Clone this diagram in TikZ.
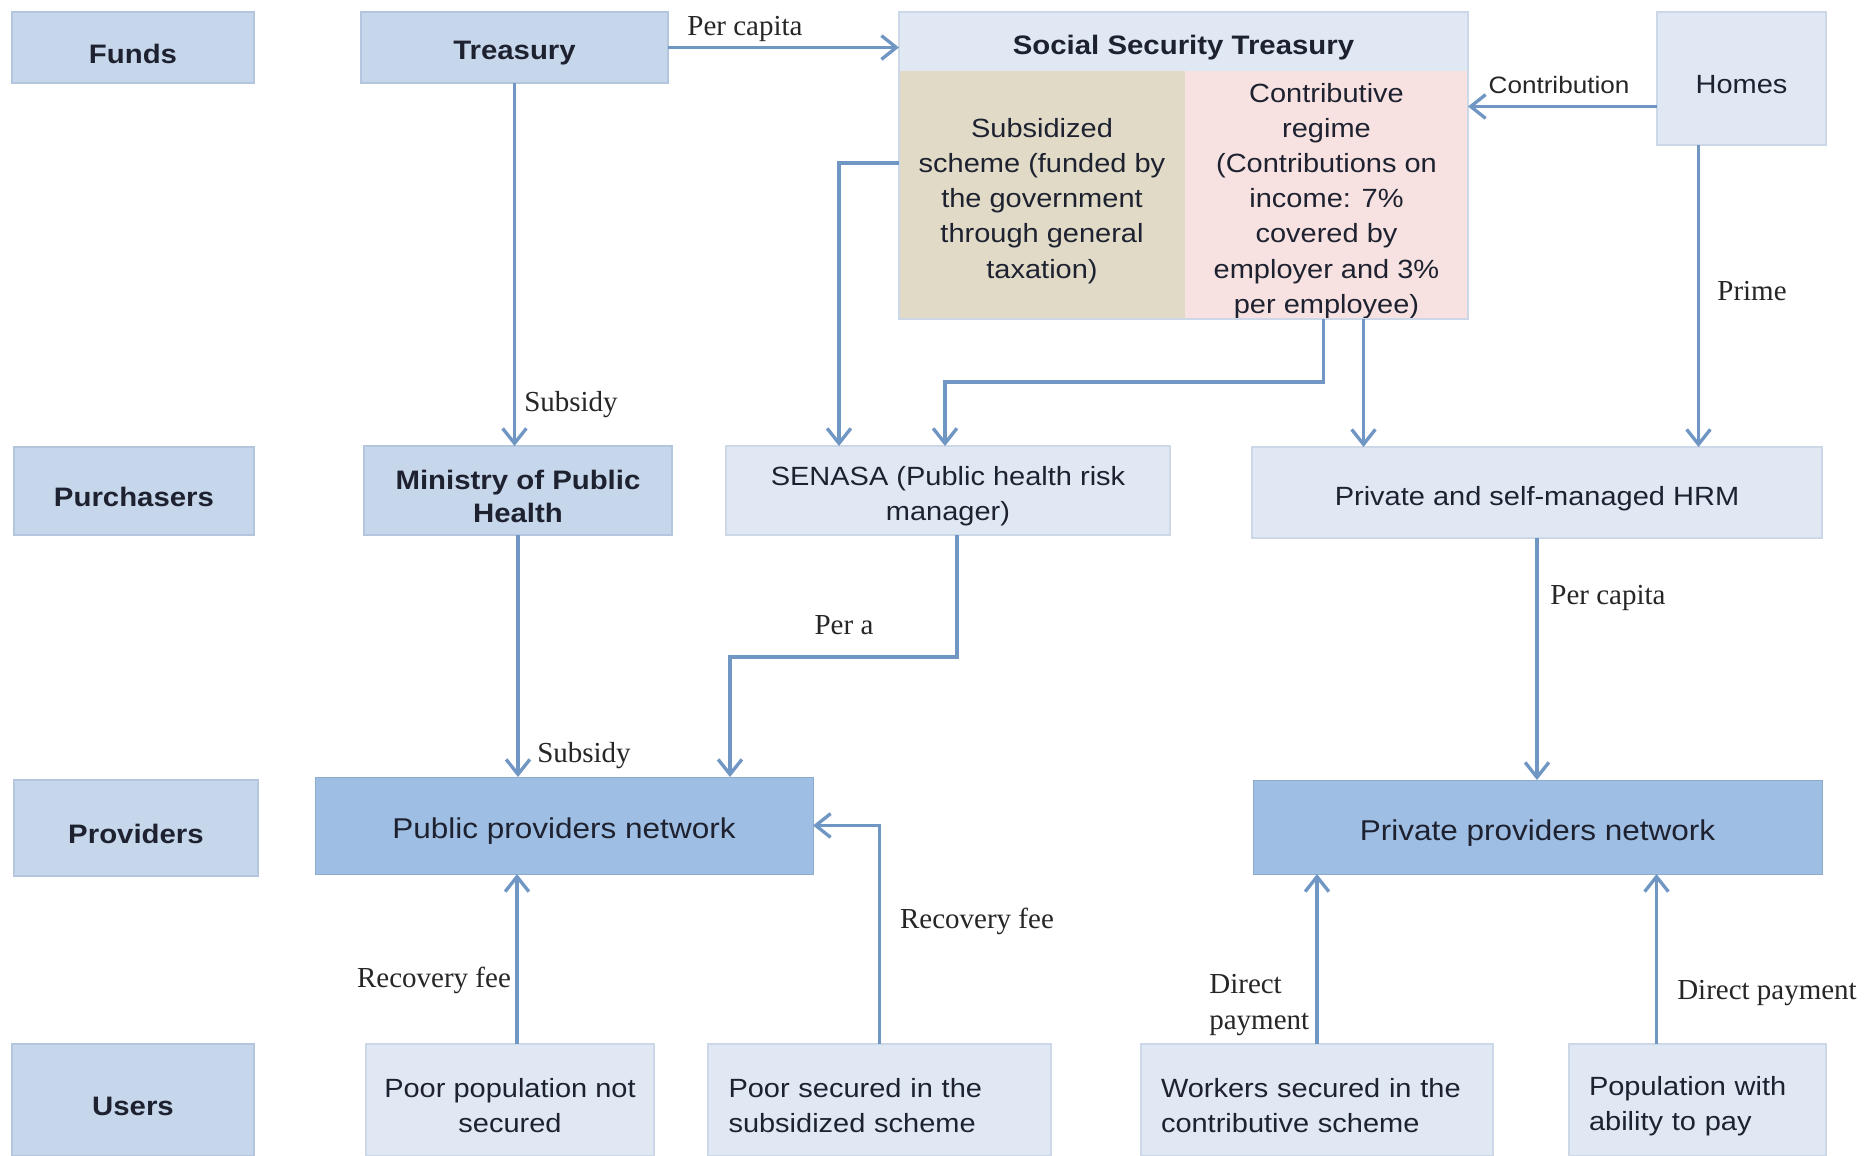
\documentclass[tikz,border=0pt]{standalone}
\usepackage{fontspec}
\setmainfont{Liberation Sans}[FakeStretch=1.1]
\newfontfamily\lblfont{Liberation Serif}
\usetikzlibrary{arrows.meta}
\definecolor{catfill}{HTML}{C7D7EB}
\definecolor{catline}{HTML}{B3C6DE}
\definecolor{lightfill}{HTML}{E0E8F3}
\definecolor{lightline}{HTML}{CCD8E8}
\definecolor{netfill}{HTML}{9FBEE3}
\definecolor{tanfill}{HTML}{E0DAC7}
\definecolor{pinkfill}{HTML}{F7E2E1}
\definecolor{arrowc}{HTML}{7096C4}
\definecolor{txt}{HTML}{1E2230}
\newlength\pxu
\setlength\pxu{0.02cm}
% #1 name, #2 box style, #3 text style, #4..#7 x1 y1 x2 y2, #8 text
\newcommand\bx[8]{%
  \pgfmathsetmacro\bw{#6-#4}\pgfmathsetmacro\bh{#7-#5}%
  \node[#2,minimum width=\bw\pxu,minimum height=\bh\pxu] (#1) at ({(#4+#6)/2},{(#5+#7)/2}) {};
  \node[#3] (#1-t) at ([yshift=-6\pxu]#1.center) {#8};}
\begin{document}
\begin{tikzpicture}[x=0.02cm,y=-0.02cm,
  shp/.style={rectangle,inner sep=0pt,outer sep=0pt},
  catbox/.style={shp,fill=catfill,draw=catline,line width=0.8pt},
  lightbox/.style={shp,fill=lightfill,draw=lightline,line width=0.8pt},
  netbox/.style={shp,fill=netfill,draw=netfill!90!black,line width=0.5pt},
  tanbox/.style={shp,fill=tanfill},
  pinkbox/.style={shp,fill=pinkfill},
  rt/.style={inner sep=0pt,text=txt,align=center,font=\fontsize{15}{20}\selectfont},
  bt/.style={inner sep=0pt,text=txt,align=center,font=\fontsize{15.2}{19}\selectfont\bfseries},
  nt/.style={inner sep=0pt,text=txt,align=center,font=\fontsize{16.3}{20}\selectfont},
  arr/.style={draw=arrowc,line width=1.9pt,-{Straight Barb[length=8.5pt,width=13.5pt,line width=1.9pt]}},
  lbl/.style={inner sep=0pt,text=black!85,font=\lblfont\fontsize{16.5}{20}\selectfont},
  slbl/.style={inner sep=0pt,text=black!85,font=\fontsize{13.5}{17}\selectfont}]
\useasboundingbox[fill=white] (0,0) rectangle (1864,1156);

% category column
\bx{funds}{catbox}{bt}{12}{12}{254}{83}{Funds}
\bx{purch}{catbox}{bt}{14}{447}{254}{535}{Purchasers}
\bx{prov}{catbox}{bt}{14}{780}{258}{876}{Providers}
\bx{users}{catbox}{bt}{12}{1044}{254}{1156}{Users}

% funds row
\bx{treasury}{catbox}{bt}{361}{12}{668}{83}{Treasury}
\bx{sstH}{lightbox,draw=none}{bt}{899}{12}{1468}{71}{Social Security Treasury}
\bx{sub}{tanbox}{rt}{899}{71}{1185}{319}{Subsidized\\scheme (funded by\\the government\\through general\\taxation)}
\bx{con}{pinkbox}{rt}{1185}{71}{1468}{319}{Contributive\\regime\\(Contributions on\\income: 7\%\\covered by\\employer and 3\%\\per employee)}
\draw[lightline,line width=0.8pt] (sstH.north west) rectangle (con.south east);
\bx{homes}{lightbox}{rt}{1657}{12}{1826}{145}{Homes}

% purchasers row
\bx{ministry}{catbox}{bt}{364}{446}{672}{535}{Ministry of Public\\Health}
\bx{senasa}{lightbox}{rt}{726}{446}{1170}{535}{SENASA (Public health risk\\manager)}
\bx{hrm}{lightbox}{rt}{1252}{447}{1822}{538}{Private and self-managed HRM}

% providers row
\bx{public}{netbox}{nt}{315}{777}{813}{874}{Public providers network}
\bx{private}{netbox}{nt}{1253}{780}{1822}{874}{Private providers network}

% users row
\bx{poorpop}{lightbox}{rt}{366}{1044}{654}{1156}{Poor population not\\secured}
\bx{poorsec}{lightbox}{rt,text width=302\pxu,align=left}{708}{1044}{1051}{1156}{Poor secured in the\\subsidized scheme}
\bx{workers}{lightbox}{rt,text width=312\pxu,align=left}{1141}{1044}{1493}{1156}{Workers secured in the\\contributive scheme}
\bx{popab}{lightbox}{rt,text width=217\pxu,align=left}{1569}{1044}{1826}{1156}{Population with\\ability to pay}

% connectors
\draw[arr] (treasury.east) -- (treasury.east -| sstH.west);
\draw[arr] (treasury.south) -- (treasury.south |- ministry.north);
\draw[arr] ([yshift=32\pxu]sub.west) -| ([xshift=-109\pxu]senasa.north);
\draw[arr] ([xshift=-3\pxu]con.south) -- ++(0,63) -| ([xshift=-3\pxu]senasa.north);
\draw[arr] ([xshift=37\pxu]con.south) -- ([xshift=37\pxu]con.south |- hrm.north);
\draw[arr] ([yshift=-28\pxu]homes.west) -- ([yshift=-28\pxu]homes.west -| con.east);
\draw[arr] ([xshift=-43\pxu]homes.south) -- ([xshift=-43\pxu]homes.south |- hrm.north);
\draw[arr] (ministry.south) -- (ministry.south |- public.north);
\draw[arr] ([xshift=9\pxu]senasa.south) -- ++(0,122) -| ([xshift=166\pxu]public.north);
\draw[arr] (hrm.south) -- (hrm.south |- private.north);
\draw[arr] ([xshift=7\pxu]poorpop.north) -- ([xshift=7\pxu]poorpop.north |- public.south);
\draw[arr] (poorsec.north) |- (public.east);
\draw[arr] (workers.north) -- (workers.north |- private.south);
\draw[arr] ([xshift=-41\pxu]popab.north) -- ([xshift=-41\pxu]popab.north |- private.south);

% connector labels
\node[lbl] (lpc1) at (745,29) {Per capita};
\node[slbl] (lcontr) at (1559,85) {Contribution};
\node[lbl] (lprime) at (1752,291) {Prime};
\node[lbl] (lsub1) at (571,405) {Subsidy};
\node[lbl] (lpera) at (844,625) {Per a};
\node[lbl] (lpc2) at (1608,598) {Per capita};
\node[lbl] (lsub2) at (584,756) {Subsidy};
\node[lbl] (lrec2) at (977,921) {Recovery fee};
\node[lbl] (lrec1) at (434,980) {Recovery fee};
\node[lbl,align=left,anchor=west] (ldp1) at (1209,1005) {Direct\\payment};
\node[lbl] (ldp2) at (1767,993) {Direct payment};
\end{tikzpicture}
\end{document}
